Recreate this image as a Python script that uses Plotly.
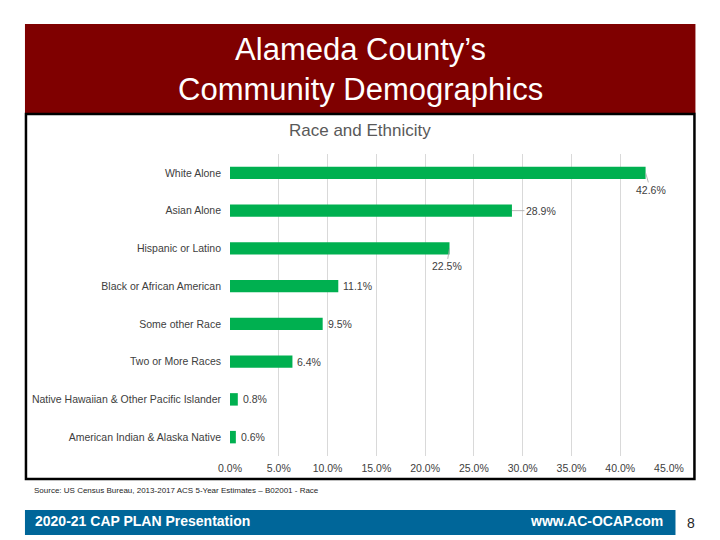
import plotly.graph_objects as go

categories = ["White Alone", "Asian Alone", "Hispanic or Latino", "Black or African American",
              "Some other Race", "Two or More Races", "Native Hawaiian & Other Pacific Islander",
              "American Indian & Alaska Native"]
values = [42.6, 28.9, 22.5, 11.1, 9.5, 6.4, 0.8, 0.6]
tick_vals = [0, 5, 10, 15, 20, 25, 30, 35, 40, 45]
tick_text = ["0.0%", "5.0%", "10.0%", "15.0%", "20.0%", "25.0%", "30.0%", "35.0%", "40.0%", "45.0%"]

FONT = "Liberation Sans, Arial, sans-serif"
L, R, T, B = 229.5, 669.5, 154, 456

def px(x):
    return (x - L) / (R - L)

def py(y):
    return (B - y) / (B - T)

fig = go.Figure(go.Bar(
    x=values, y=categories, orientation="h",
    marker=dict(color="#00B050", line=dict(width=0)),
    width=0.33, hoverinfo="skip"
))

annotations = []
offsets = {0: (5, 17), 1: (29, 0), 2: (-3, 18)}
for i, (c, v) in enumerate(zip(categories, values)):
    txt = f"{v:.1f}%"
    if i in offsets:
        ax, ay = offsets[i]
        annotations.append(dict(x=v, y=c, xref="x", yref="y", text=txt, showarrow=True,
                                arrowhead=0, arrowwidth=0.8, arrowcolor="#A6A6A6",
                                ax=ax, ay=ay, standoff=0, startstandoff=0,
                                font=dict(family=FONT, size=10.5, color="#404040")))
    else:
        annotations.append(dict(x=v, y=c, xref="x", yref="y", text=txt, showarrow=False,
                                xanchor="left", xshift=3,
                                font=dict(family=FONT, size=10.5, color="#404040")))

annotations += [
    dict(x=px(360), y=py(70), xref="paper", yref="paper", showarrow=False,
         text="Alameda County’s<br>Community Demographics",
         font=dict(family=FONT, size=31, color="white"), xanchor="center", yanchor="middle"),
    dict(x=px(360), y=py(131), xref="paper", yref="paper", showarrow=False,
         text="Race and Ethnicity", font=dict(family=FONT, size=17, color="#595959"),
         xanchor="center", yanchor="middle"),
    dict(x=px(31), y=py(490), xref="paper", yref="paper", showarrow=False,
         text="Source: US Census Bureau, 2013-2017 ACS 5-Year Estimates – B02001 - Race",
         font=dict(family=FONT, size=8, color="#262626"), xanchor="left", yanchor="middle"),
    dict(x=px(32), y=py(521), xref="paper", yref="paper", showarrow=False,
         text="<b>2020-21 CAP PLAN Presentation</b>",
         font=dict(family=FONT, size=14, color="white"), xanchor="left", yanchor="middle"),
    dict(x=px(665), y=py(521), xref="paper", yref="paper", showarrow=False,
         text="<b>www.AC-OCAP.com</b>",
         font=dict(family=FONT, size=14, color="white"), xanchor="right", yanchor="middle"),
    dict(x=px(692), y=py(523), xref="paper", yref="paper", showarrow=False,
         text="8", font=dict(family=FONT, size=14, color="#262626"),
         xanchor="center", yanchor="middle"),
]

shapes = [
    dict(type="rect", xref="paper", yref="paper", x0=px(24), x1=px(696), y0=py(24), y1=py(113),
         fillcolor="#7F0000", line=dict(width=0), layer="below"),
    dict(type="rect", xref="paper", yref="paper", x0=px(25), x1=px(695), y0=py(114), y1=py(479),
         fillcolor="rgba(0,0,0,0)", line=dict(color="black", width=2.5)),
    dict(type="rect", xref="paper", yref="paper", x0=px(24), x1=px(676), y0=py(510), y1=py(535),
         fillcolor="#006699", line=dict(width=0), layer="below"),
]

fig.update_layout(
    width=720, height=540,
    margin=dict(l=L, r=720 - R, t=T, b=540 - B, pad=0),
    paper_bgcolor="white", plot_bgcolor="white",
    showlegend=False,
    font=dict(family=FONT, size=10, color="#404040"),
    xaxis=dict(range=[0, 45], tickvals=tick_vals, ticktext=tick_text, showgrid=True,
               gridcolor="#D9D9D9", gridwidth=1, zeroline=False, showline=False,
               ticks="", ticklabelstandoff=4,
               tickfont=dict(family=FONT, size=10.5, color="#404040"), fixedrange=True),
    yaxis=dict(range=[len(categories) - 0.5, -0.5], showgrid=False, zeroline=False, showline=False,
               ticks="", ticklabelstandoff=8, tickfont=dict(family=FONT, size=10.5, color="#404040"),
               fixedrange=True),
    annotations=annotations,
    shapes=shapes,
)

fig.write_html("out.html", config={"displayModeBar": False},
               post_script="document.body.style.margin='0';document.body.style.overflow='hidden';")
